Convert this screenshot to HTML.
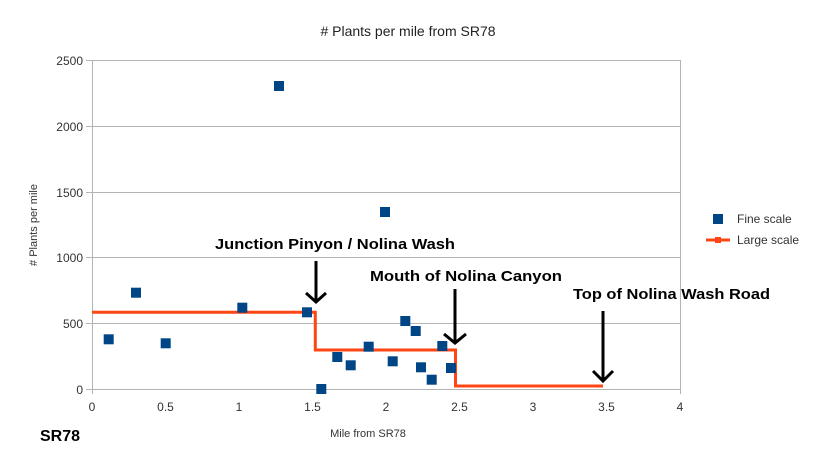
<!DOCTYPE html>
<html><head><style>body{margin:0;background:#fff}svg{display:block}</style></head><body>
<svg width="817" height="459" xmlns="http://www.w3.org/2000/svg" font-family="Liberation Sans, sans-serif">
<rect width="817" height="459" fill="#fff"/>
<text x="408" y="36" font-size="14" text-anchor="middle" fill="#222">&#35; Plants per mile from SR78</text>
<g stroke="#b3b3b3" stroke-width="1">
<line x1="92" y1="60.5" x2="680" y2="60.5"/><line x1="92" y1="126.5" x2="680" y2="126.5"/>
<line x1="92" y1="192.5" x2="680" y2="192.5"/><line x1="92" y1="257.5" x2="680" y2="257.5"/>
<line x1="92" y1="323.5" x2="680" y2="323.5"/><line x1="86" y1="389.5" x2="680" y2="389.5"/>
<line x1="92.5" y1="60" x2="92.5" y2="394"/><line x1="680.5" y1="60" x2="680.5" y2="394"/>
<line x1="86" y1="60.5" x2="92" y2="60.5"/><line x1="86" y1="126.5" x2="92" y2="126.5"/><line x1="86" y1="192.5" x2="92" y2="192.5"/><line x1="86" y1="257.5" x2="92" y2="257.5"/><line x1="86" y1="323.5" x2="92" y2="323.5"/>
</g>
<g font-size="12" fill="#333" text-anchor="end">
<text x="83" y="65">2500</text><text x="83" y="131">2000</text><text x="83" y="197">1500</text><text x="83" y="262">1000</text><text x="83" y="328">500</text><text x="83" y="394">0</text>
</g>
<g font-size="12" fill="#333" text-anchor="middle">
<text x="92" y="411">0</text><text x="165.5" y="411">0.5</text><text x="239" y="411">1</text><text x="312.5" y="411">1.5</text><text x="386" y="411">2</text><text x="459.5" y="411">2.5</text><text x="533" y="411">3</text><text x="606.5" y="411">3.5</text><text x="680" y="411">4</text>
</g>
<text x="368" y="437" font-size="11" fill="#333" text-anchor="middle">Mile from SR78</text>
<text transform="translate(37,225) rotate(-90)" font-size="11" fill="#333" text-anchor="middle"># Plants per mile</text>
<text x="40" y="441" font-size="16" font-weight="bold" fill="#000">SR78</text>
<polyline points="92,312.3 315.3,312.3 315.3,350 455.5,350 455.5,386 603,386" fill="none" stroke="#ff4514" stroke-width="3"/>
<g fill="#004586">
<rect x="103.7" y="334.3" width="10" height="10"/><rect x="131" y="287.7" width="10" height="10"/><rect x="160.7" y="338.3" width="10" height="10"/><rect x="237.3" y="302.7" width="10" height="10"/><rect x="302" y="307.3" width="10" height="10"/><rect x="316.3" y="384" width="10" height="10"/><rect x="332.3" y="352" width="10" height="10"/><rect x="345.7" y="360.3" width="10" height="10"/><rect x="363.7" y="341.7" width="10" height="10"/><rect x="387.7" y="356.3" width="10" height="10"/><rect x="400.3" y="316" width="10" height="10"/><rect x="410.7" y="326" width="10" height="10"/><rect x="416" y="362.3" width="10" height="10"/><rect x="426.7" y="374.7" width="10" height="10"/><rect x="437.3" y="341" width="10" height="10"/><rect x="446" y="363" width="10" height="10"/><rect x="274" y="81" width="10" height="10"/><rect x="380" y="207" width="10" height="10"/>
</g>
<g stroke="#000" stroke-width="3" fill="none">
<line x1="316" y1="261" x2="316" y2="302"/><polyline points="306,293 316,302 326,293"/>
<line x1="455" y1="289" x2="455" y2="343"/><polyline points="444,334 455,343 466,334"/>
<line x1="603" y1="311" x2="603" y2="381"/><polyline points="593,371 603,381 613,371"/>
</g>
<g font-size="15" font-weight="bold" fill="#000">
<text x="215" y="249" textLength="240" lengthAdjust="spacingAndGlyphs">Junction Pinyon / Nolina Wash</text>
<text x="370" y="281" textLength="192" lengthAdjust="spacingAndGlyphs">Mouth of Nolina Canyon</text>
<text x="573" y="299" textLength="197" lengthAdjust="spacingAndGlyphs">Top of Nolina Wash Road</text>
</g>
<rect x="713" y="214" width="10" height="10" fill="#004586"/>
<text x="737" y="223" font-size="12" fill="#333">Fine scale</text>
<line x1="706" y1="240" x2="730" y2="240" stroke="#ff4514" stroke-width="3"/>
<rect x="715" y="237" width="6" height="6" fill="#ff4514"/>
<text x="737" y="244" font-size="12" fill="#333">Large scale</text>
</svg>
</body></html>
